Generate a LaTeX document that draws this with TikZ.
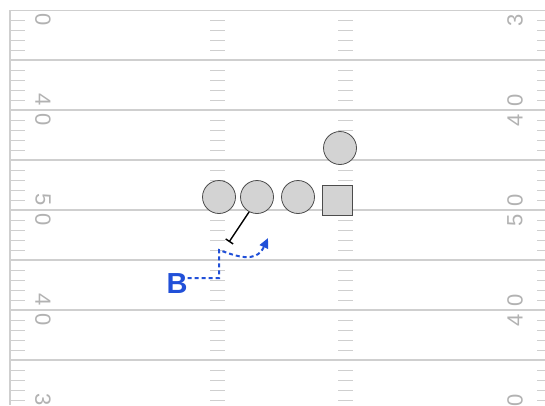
\documentclass[tikz,border=0pt]{standalone}
\usepackage{fontspec}
\setmainfont{Liberation Sans}
\usetikzlibrary{arrows.meta}
\definecolor{yardgray}{HTML}{CFCFCF}
\definecolor{numgray}{HTML}{B2B2B2}
\definecolor{playerfill}{HTML}{D3D3D3}
\definecolor{routeblue}{HTML}{2150D8}

\begin{document}
\begin{tikzpicture}[x=1pt,y=-1pt,
  yardline/.style={draw=yardgray, line width=1.4pt},
  hashmark/.style={draw=yardgray, line width=1pt},
  yardnum/.style={text=numgray, font=\fontsize{22}{22}\selectfont, inner sep=0pt},
  player/.style={circle, fill=playerfill, draw=black!70, line width=0.8pt, minimum size=33pt, inner sep=0pt},
  snapper/.style={rectangle, fill=playerfill, draw=black!70, line width=0.8pt, minimum size=30pt, inner sep=0pt},
  route/.style={draw=routeblue, line width=2pt, dash pattern=on 4pt off 3pt}]
  \useasboundingbox (0,0) rectangle (545,405);

  % field
  \begin{scope}
    \clip (10,10) rectangle (545,405);
    \foreach \yy in {10,60,...,410}
      \draw[yardline] (0,\yy) -- (560,\yy);
    \foreach \yy in {10,60,...,360} {
      \foreach \k in {10,20,30,40} {
        \draw[hashmark] (10,\yy+\k) -- (25,\yy+\k);
        \draw[hashmark] (210,\yy+\k) -- (225,\yy+\k);
        \draw[hashmark] (338,\yy+\k) -- (353,\yy+\k);
        \draw[hashmark] (537,\yy+\k) -- (555,\yy+\k);
      }
    }
    \foreach \yy/\a/\b in {10/3/0,110/4/0,210/5/0,310/4/0,410/3/0} {
      \node[yardnum, rotate=-90] (la\yy) at (43,\yy-10) {\a};
      \node[yardnum, rotate=-90] (lb\yy) at (43,\yy+10) {\b};
      \node[yardnum, rotate=90] (rb\yy) at (515,\yy-10) {\b};
      \node[yardnum, rotate=90] (ra\yy) at (515,\yy+10) {\a};
    }
  \end{scope}
  \draw[yardline] (10,10) -- (10,405);

  % offense
  \node[player] (lg) at (219,197) {};
  \node[player] (lt) at (257,197) {};
  \node[player] (rg) at (298,197) {};
  \node[snapper] (ctr) at (337.5,200) {};
  \node[player] (back) at (340,148) {};

  \coordinate (blk) at (229,242);
  \draw[line width=1.4pt, -{Bar[width=9pt]}] (lt.242) -- (blk);

  % blitz
  \node[text=routeblue, font=\fontsize{29}{29}\selectfont\bfseries, inner sep=0pt] (B) at (177,284) {B};
  \coordinate (r1) at (219,278);
  \coordinate (r2) at (219,250);
  \coordinate (r3) at (268,238);
  \draw[route, -{Triangle[length=10pt,width=9pt]}] ([yshift=6pt]B.east) -- (r1) -- (r2)
    .. controls (236,256) and (256,264) .. (r3);
\end{tikzpicture}
\end{document}
